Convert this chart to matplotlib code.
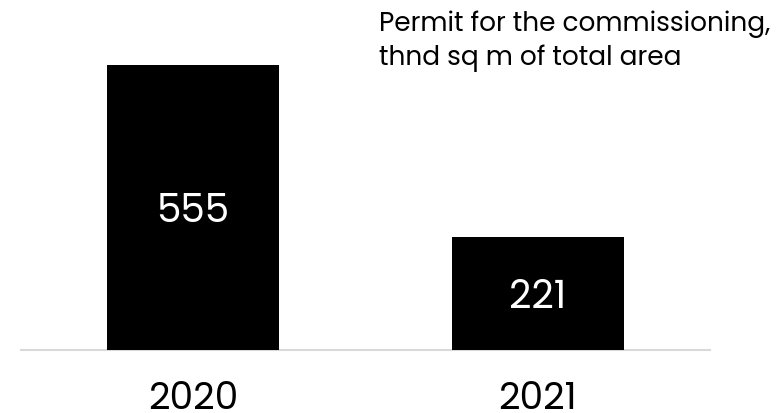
import matplotlib
matplotlib.use("Agg")
import matplotlib.pyplot as plt

years = ["2020", "2021"]
values = [555, 221]
title_text = "Permit for the commissioning,\nthnd sq m of total area"

FONT = ["Poppins", "Manrope", "DejaVu Sans"]

fig = plt.figure(figsize=(7.83, 4.13), dpi=100)
ax = fig.add_axes([21/783, (413-350)/413, 689/783, (350-65)/413])

x = list(range(len(years)))
ax.bar(x, values, width=0.5, color="black", zorder=3)
ax.set_xlim(-0.5, 1.5)
ax.set_ylim(0, max(values))

for xi, v in zip(x, values):
    ax.text(xi, v / 2, f"{v}", ha="center", va="center_baseline", color="white",
            fontsize=28, family=FONT, zorder=4)

ax.set_xticks(x)
ax.set_xticklabels(years, fontsize=27, family=FONT)
ax.tick_params(axis="x", length=0, pad=22)
ax.set_yticks([])
for s in ["top", "left", "right"]:
    ax.spines[s].set_visible(False)
ax.spines["bottom"].set_color("#d9d9d9")
ax.spines["bottom"].set_linewidth(1.5)

fig.text(379/783, 1 - 65/413, title_text, ha="left", va="baseline", fontsize=19,
         family=FONT, linespacing=1.33)

fig.savefig("out.png", dpi=100)
